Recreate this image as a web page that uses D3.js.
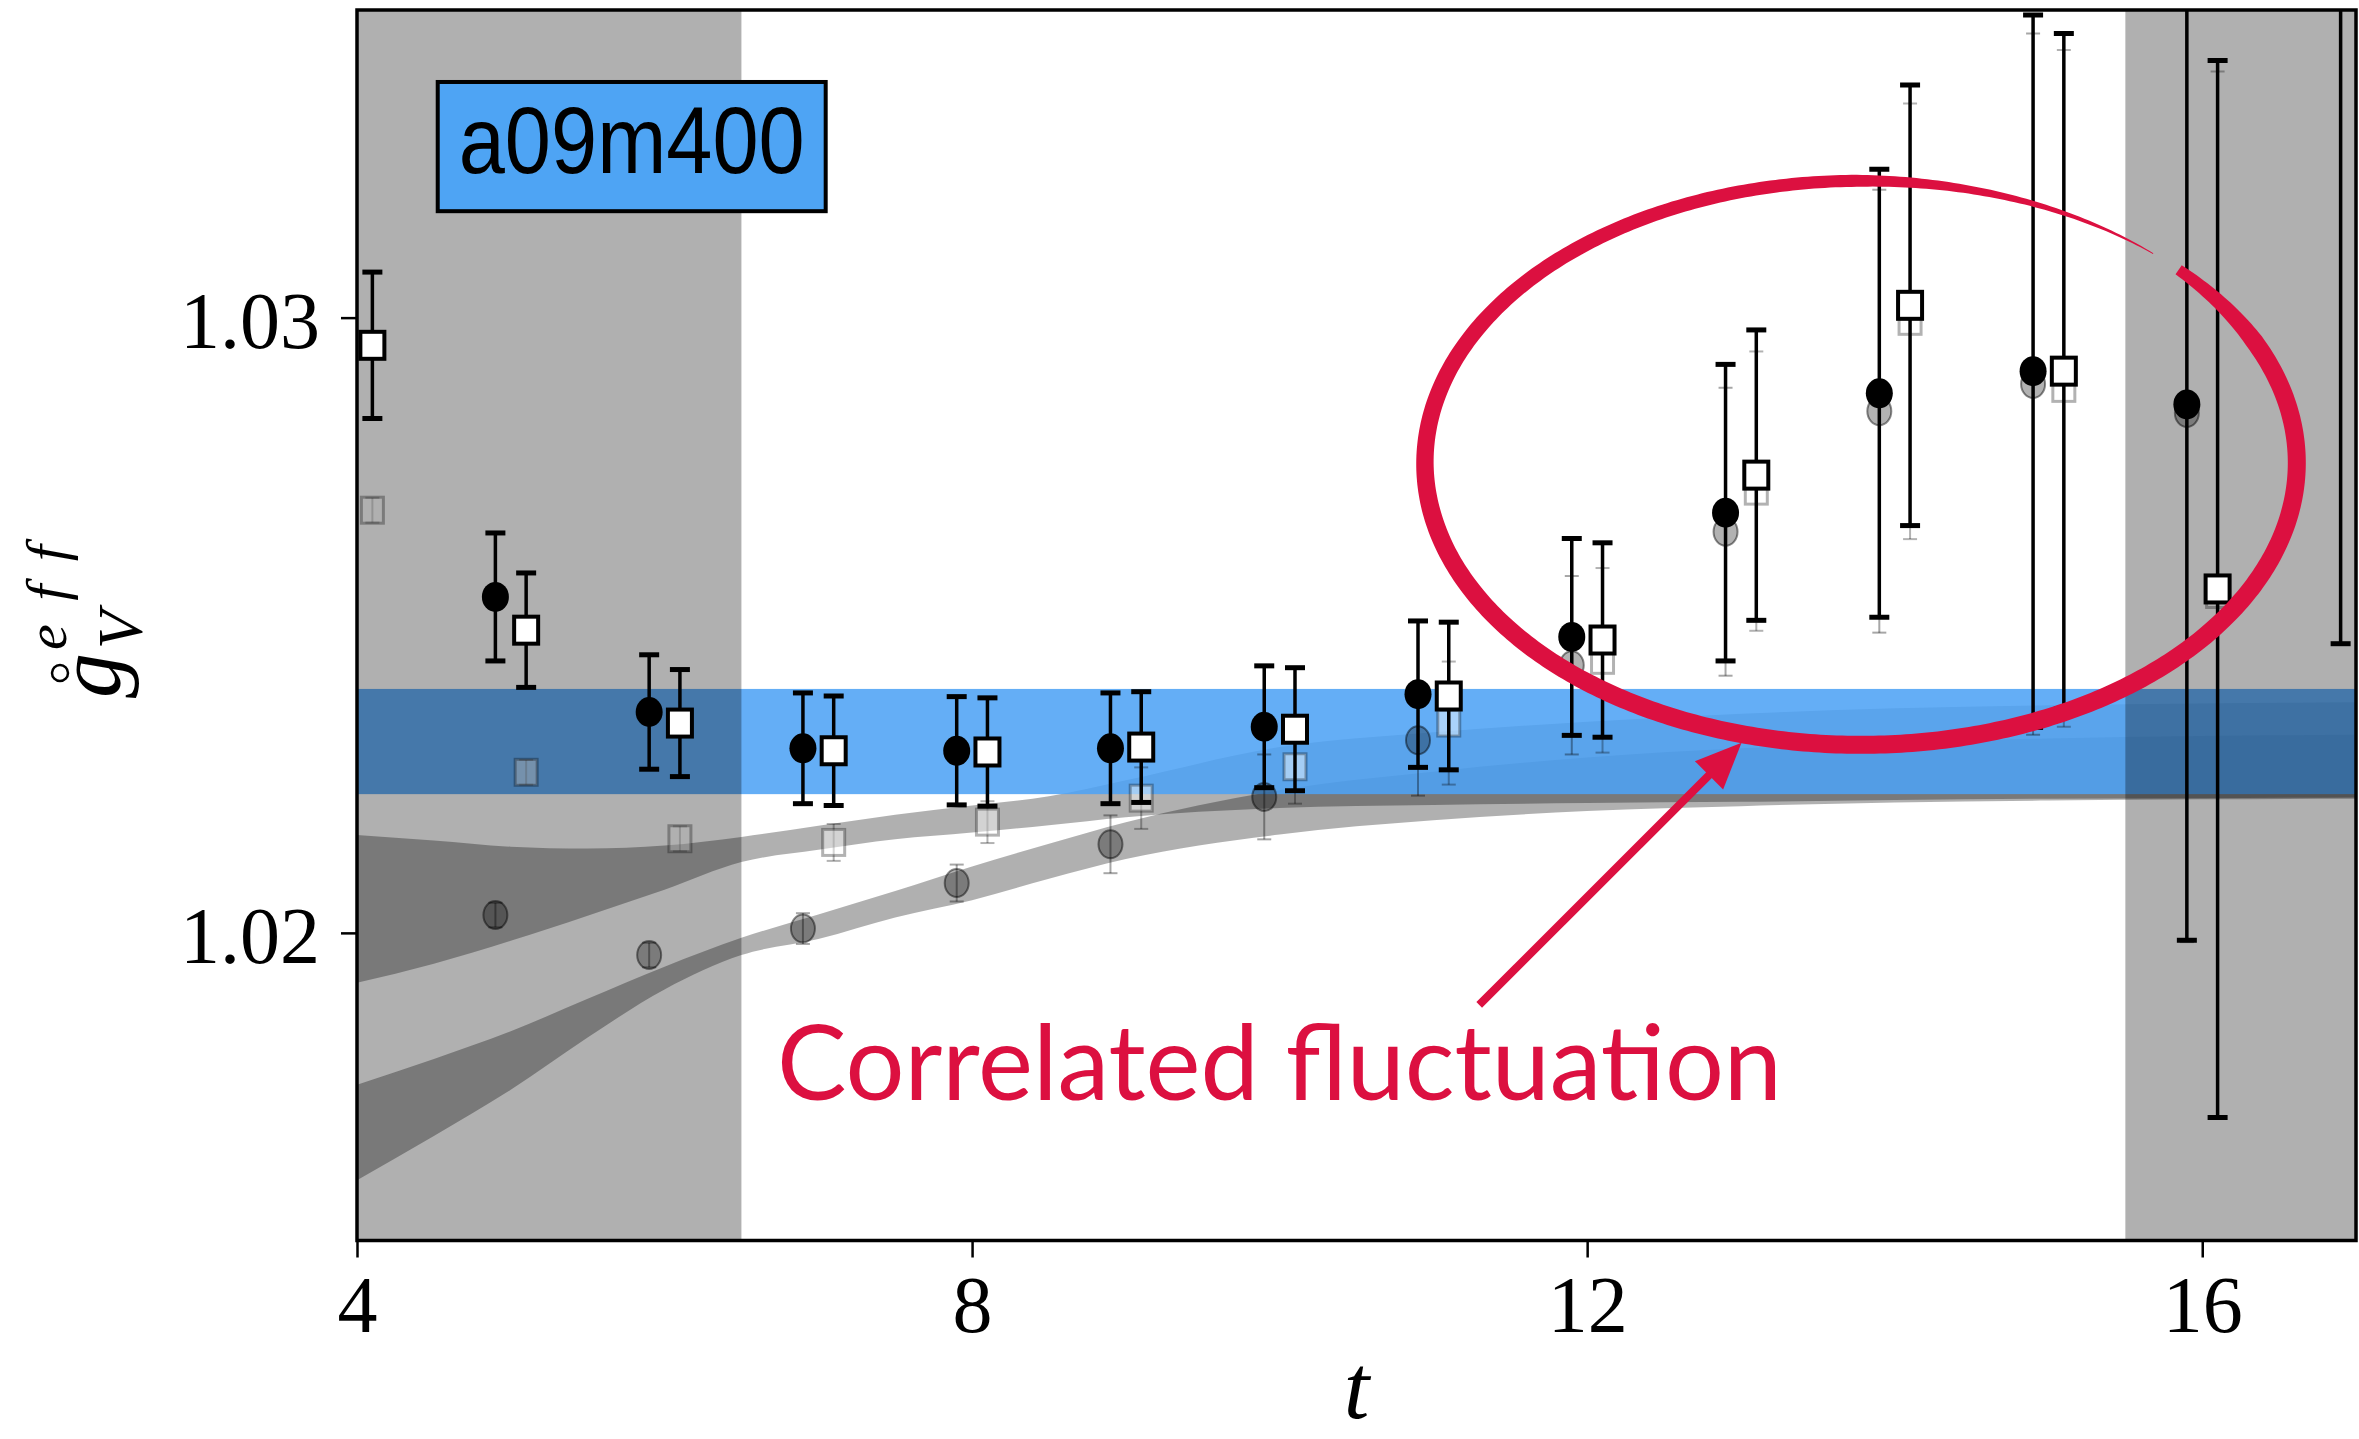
<!DOCTYPE html>
<html><head><meta charset="utf-8">
<script src="https://cdn.jsdelivr.net/npm/d3@7"></script>
<style>html,body{margin:0;padding:0;background:#fff;} svg{display:block}</style>
</head><body>
<svg id="chart" width="2359" height="1439"></svg>
<script>
// ---------------- data ----------------
const xTicks = [4, 8, 12, 16];
const yTicks = [1.02, 1.03];
const label = "a09m400";
const annotationText = "Correlated fluctuation";

// filled circles (offset left of integer t)
const circT   = [5, 6, 7, 8, 9, 10, 11, 12, 13, 14, 15, 16, 17];
const circVal = [1.02546, 1.02359, 1.02300, 1.02296, 1.02300, 1.02335, 1.02388, 1.02481, 1.02683, 1.02877, 1.02913, 1.02859, 1.0366];
const circErr = [0.00104, 0.00093, 0.00090, 0.00088, 0.00090, 0.00099, 0.00119, 0.00160, 0.00241, 0.00364, 0.00579, 0.00871, 0.0119];

// open squares (offset right of integer t)
const sqT   = [4, 5, 6, 7, 8, 9, 10, 11, 12, 13, 14, 15, 16];
const sqVal = [1.02955, 1.02492, 1.02341, 1.02296, 1.02294, 1.02302, 1.02331, 1.02385, 1.02476, 1.02744, 1.03020, 1.02913, 1.02559];
const sqErr = [0.00119, 0.00093, 0.00087, 0.00089, 0.00088, 0.00090, 0.00100, 0.00120, 0.00158, 0.00236, 0.00358, 0.00549, 0.00859];

// faded (uncorrected) circles and squares
const gCircT   = [5, 6, 7, 8, 9, 10, 11, 12, 13, 14, 15, 16];
const gCircVal = [1.02029, 1.01964, 1.02007, 1.02081, 1.02144, 1.02221, 1.02313, 1.02435, 1.02652, 1.02848, 1.02892, 1.02845];
const gCircErr = [0.00020, 0.00020, 0.00025, 0.00030, 0.00047, 0.00069, 0.00090, 0.00145, 0.00234, 0.00360, 0.00570, 0.00860];
const gSqT   = [4, 5, 6, 7, 8, 9, 10, 11, 12, 13, 14, 15, 16];
const gSqVal = [1.02687, 1.02261, 1.02153, 1.02147, 1.02180, 1.02219, 1.02270, 1.02341, 1.02443, 1.02718, 1.02994, 1.02885, 1.02550];
const gSqErr = [0.00020, 0.00020, 0.00020, 0.00030, 0.00034, 0.00050, 0.00060, 0.00100, 0.00150, 0.00227, 0.00354, 0.00550, 0.00850];

// fit bands
const fitT = [4, 4.5, 5, 5.5, 6, 6.5, 7, 7.5, 8, 8.5, 9, 10, 11, 12, 13, 14, 15, 16, 17];
const fitSqHi = [1.02159, 1.02150, 1.02140, 1.02137, 1.02142, 1.02156, 1.02174, 1.02192, 1.02207, 1.02222, 1.02248, 1.02302, 1.02326, 1.02343, 1.02356, 1.02365, 1.02370, 1.02373, 1.02375];
const fitSqLo = [1.01919, 1.01950, 1.01987, 1.02028, 1.02070, 1.02115, 1.02135, 1.02152, 1.02163, 1.02175, 1.02188, 1.02203, 1.02208, 1.02211, 1.02213, 1.02216, 1.02218, 1.02219, 1.02220];
const fitCiHi = [1.01753, 1.01795, 1.01840, 1.01893, 1.01945, 1.01992, 1.02030, 1.02068, 1.02108, 1.02145, 1.02180, 1.02232, 1.02262, 1.02285, 1.02300, 1.02310, 1.02316, 1.02320, 1.02322];
const fitCiLo = [1.01598, 1.01670, 1.01745, 1.01830, 1.01908, 1.01964, 1.01990, 1.02025, 1.02053, 1.02088, 1.02120, 1.02160, 1.02183, 1.02198, 1.02206, 1.02212, 1.02215, 1.02217, 1.02218];

// final result band
const resultVal = 1.02311;
const resultErr = 0.000855;

// excluded t ranges
const exclFrom = [4, 15.5];
const exclTo   = [6.5, 17];

// ---------------- setup ----------------
const svg = d3.select("#chart");
const L = 357, R = 2356, T = 10, B = 1240.5;
const x = d3.scaleLinear().domain([4, 17]).range([L, R]);
const y = d3.scaleLinear().domain([1.015, 1.035]).range([B, T]);
const OFF = 0.1;
const serif = "'Liberation Serif', 'DejaVu Serif', serif";
const red = "#dc1040";

svg.append("defs").append("clipPath").attr("id", "clip")
  .append("rect").attr("x", L).attr("y", T).attr("width", R - L).attr("height", B - T);

const plot = svg.append("g").attr("clip-path", "url(#clip)");

// fit bands
const area = d3.area().x(d => x(d.t)).y0(d => y(d.lo)).y1(d => y(d.hi)).curve(d3.curveMonotoneX);
const bandSq = fitT.map((t, i) => ({t, lo: fitSqLo[i], hi: fitSqHi[i]}));
const bandCi = fitT.map((t, i) => ({t, lo: fitCiLo[i], hi: fitCiHi[i]}));
[bandSq, bandCi].forEach(b => {
  plot.append("path").datum(b).attr("d", area).attr("fill", "#000").attr("fill-opacity", 0.31);
});

// result band
plot.append("rect")
  .attr("x", x(4)).attr("width", x(17) - x(4))
  .attr("y", y(resultVal + resultErr)).attr("height", y(resultVal - resultErr) - y(resultVal + resultErr))
  .attr("fill", "rgb(77,162,245)").attr("fill-opacity", 0.87);

// helper for error bars
function errBars(g, ts, vals, errs, dx, opts) {
  const data = ts.map((t, i) => ({t: t + dx, v: vals[i], e: errs[i]}));
  const gg = g.append("g").attr("stroke", "#000").attr("stroke-opacity", opts.op);
  gg.selectAll("line.v").data(data).join("line")
    .attr("x1", d => x(d.t)).attr("x2", d => x(d.t))
    .attr("y1", d => y(d.v + d.e)).attr("y2", d => y(d.v - d.e))
    .attr("stroke-width", opts.w);
  [1, -1].forEach(s => {
    gg.selectAll("line.c" + s).data(data).join("line")
      .attr("x1", d => x(d.t) - opts.cap / 2).attr("x2", d => x(d.t) + opts.cap / 2)
      .attr("y1", d => y(d.v + s * d.e)).attr("y2", d => y(d.v + s * d.e))
      .attr("stroke-width", opts.cw);
  });
  return data;
}

// faded points
const gc = errBars(plot, gCircT, gCircVal, gCircErr, -OFF, {op: 0.35, w: 2, cap: 14, cw: 2});
plot.append("g").selectAll("ellipse").data(gc).join("ellipse")
  .attr("cx", d => x(d.t)).attr("cy", d => y(d.v)).attr("rx", 12).attr("ry", 14)
  .attr("fill", "#000").attr("fill-opacity", 0.3).attr("stroke", "#000").attr("stroke-opacity", 0.45).attr("stroke-width", 2);
const gs = errBars(plot, gSqT, gSqVal, gSqErr, OFF, {op: 0.3, w: 2, cap: 14, cw: 2});
plot.append("g").selectAll("rect").data(gs).join("rect")
  .attr("x", d => x(d.t) - 11).attr("y", d => y(d.v) - 13).attr("width", 22).attr("height", 26)
  .attr("fill", "#fff").attr("fill-opacity", 0.45).attr("stroke", "#000").attr("stroke-opacity", 0.3).attr("stroke-width", 3);

// excluded regions
plot.append("g").selectAll("rect").data(exclFrom.map((f, i) => ({f, t: exclTo[i]}))).join("rect")
  .attr("x", d => x(d.f)).attr("width", d => x(d.t) - x(d.f))
  .attr("y", T).attr("height", B - T)
  .attr("fill", "#000").attr("fill-opacity", 0.31);

// main points
const mc = errBars(plot, circT, circVal, circErr, -OFF, {op: 1, w: 3.5, cap: 20, cw: 5});
plot.append("g").selectAll("ellipse").data(mc).join("ellipse")
  .attr("cx", d => x(d.t)).attr("cy", d => y(d.v)).attr("rx", 13.5).attr("ry", 15).attr("fill", "#000");
const ms = errBars(plot, sqT, sqVal, sqErr, OFF, {op: 1, w: 3.5, cap: 20, cw: 5});
plot.append("g").selectAll("rect").data(ms).join("rect")
  .attr("x", d => x(d.t) - 12).attr("y", d => y(d.v) - 13.5).attr("width", 24).attr("height", 27)
  .attr("fill", "#fff").attr("stroke", "#000").attr("stroke-width", 4);

// frame
svg.append("rect").attr("x", L).attr("y", T).attr("width", R - L).attr("height", B - T)
  .attr("fill", "none").attr("stroke", "#000").attr("stroke-width", 3.5);

// axes
const xAxis = svg.append("g").attr("transform", `translate(0,${B})`)
  .call(d3.axisBottom(x).tickValues(xTicks).tickSize(17).tickPadding(18).tickFormat(d3.format("d")));
const yAxis = svg.append("g").attr("transform", `translate(${L},0)`)
  .call(d3.axisLeft(y).tickValues(yTicks).tickSize(16).tickPadding(21).tickFormat(d3.format(".2f")));
[xAxis, yAxis].forEach(a => {
  a.select(".domain").remove();
  a.selectAll(".tick line").attr("stroke", "#000").attr("stroke-width", 2.5);
  a.selectAll(".tick text").attr("fill", "#000").style("font-family", serif).style("font-size", "80px");
});
yAxis.selectAll(".tick text").attr("dy", "0.37em");

// axis labels
svg.append("text").attr("x", (L + R) / 2).attr("y", 1418).attr("text-anchor", "middle")
  .style("font-family", serif).style("font-style", "italic").style("font-size", "92px").text("t");

const yl = svg.append("g").attr("transform", "translate(120,698) rotate(-90)")
  .style("font-family", serif).style("font-style", "italic").attr("fill", "#000");
yl.append("text").attr("x", 0).attr("y", 0).style("font-size", "90px").text("g");
yl.append("circle").attr("cx", 25).attr("cy", -60).attr("r", 8).attr("fill", "none").attr("stroke", "#000").attr("stroke-width", 2.5);
yl.append("text").attr("x", 49).attr("y", 22).style("font-size", "63px").text("V");
yl.append("text").attr("x", 48).attr("y", -54).style("font-size", "58px")
  .attr("textLength", 105).attr("lengthAdjust", "spacing").text("eff");

// label box
const boxT0 = 4.525, boxT1 = 7.048, boxV0 = 1.03383, boxV1 = 1.03173;
svg.append("rect").attr("x", x(boxT0)).attr("y", y(boxV0))
  .attr("width", x(boxT1) - x(boxT0)).attr("height", y(boxV1) - y(boxV0))
  .attr("fill", "#4ea4f4").attr("stroke", "#000").attr("stroke-width", 4);
svg.append("text").attr("x", x(boxT0) + 21).attr("y", y(boxV0) + 91)
  .attr("textLength", 346).attr("lengthAdjust", "spacingAndGlyphs")
  .style("font-family", "'Liberation Sans', Arial, sans-serif").style("font-size", "95px").attr("fill", "#000")
  .text(label);

// ---------------- annotation ----------------
const ellC = {t: 13.78, v: 1.02764, rt: 2.835, rv: 0.004584, a0: -43.2, a1: 312.1};
const cx = x(ellC.t), cy = y(ellC.v), rx = x(ellC.t + ellC.rt) - cx, ry = y(ellC.v - ellC.rv) - cy;
function width(u) {
  if (u < 0.05) return 11 + (18 - 11) * u / 0.05;
  if (u < 0.6) return 18;
  if (u < 0.88) return 18 - 6 * (u - 0.6) / 0.28;
  return Math.max(0.8, 12 - 11.2 * (u - 0.88) / 0.12);
}
const N = 500, outer = [], inner = [];
for (let i = 0; i <= N; i++) {
  const u = i / N;
  const th = (ellC.a0 + (ellC.a1 - ellC.a0) * u) * Math.PI / 180;
  const px = cx + rx * Math.cos(th), py = cy + ry * Math.sin(th);
  let nx = Math.cos(th) / rx, ny = Math.sin(th) / ry;
  const nl = Math.hypot(nx, ny); nx /= nl; ny /= nl;
  const w = width(u) / 2;
  outer.push([px + nx * w, py + ny * w]);
  inner.push([px - nx * w, py - ny * w]);
}
svg.append("path").attr("d", d3.line()(outer.concat(inner.reverse())) + "Z").attr("fill", red);

// arrow
const arrTail = {t: 11.298, v: 1.01883}, arrTip = {t: 13.004, v: 1.02309};
const ax0 = x(arrTail.t), ay0 = y(arrTail.v), ax1 = x(arrTip.t), ay1 = y(arrTip.v);
const dl = Math.hypot(ax1 - ax0, ay1 - ay0), ux = (ax1 - ax0) / dl, uy = (ay1 - ay0) / dl;
const headLen = 46, headHalf = 20;
svg.append("line").attr("x1", ax0).attr("y1", ay0)
  .attr("x2", ax1 - ux * (headLen - 4)).attr("y2", ay1 - uy * (headLen - 4))
  .attr("stroke", red).attr("stroke-width", 8);
const bx = ax1 - ux * headLen, by = ay1 - uy * headLen;
svg.append("path").attr("d", d3.line()([[ax1, ay1], [bx - uy * headHalf, by + ux * headHalf], [bx + uy * headHalf, by - ux * headHalf]]) + "Z")
  .attr("fill", red);

// annotation text
const txtPos = {t: 6.731, v: 1.01728};
svg.append("text").attr("x", x(txtPos.t)).attr("y", y(txtPos.v))
  .attr("textLength", 1005).attr("lengthAdjust", "spacingAndGlyphs")
  .style("font-family", "Lato, 'Open Sans', sans-serif").style("font-size", "105px").attr("fill", red)
  .text(annotationText);
</script>
</body></html>
